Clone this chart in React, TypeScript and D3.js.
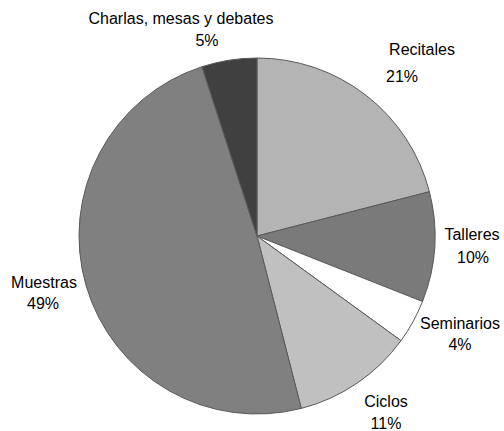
import React, { useEffect, useRef } from 'react';
import * as d3 from 'd3';

const categories = ['Recitales', 'Talleres', 'Seminarios', 'Ciclos', 'Muestras', 'Charlas, mesas y debates'];
const values = [21, 10, 4, 11, 49, 5];
const fills = ['#b4b4b4', '#7a7a7a', '#ffffff', '#c0c0c0', '#808080', '#404040'];
// label anchor points (name baseline, percent baseline)
const labelPos = [
  { x: 422, y: 55, px: 402, py: 82 },
  { x: 472, y: 240, px: 473, py: 263 },
  { x: 460, y: 329, px: 460, py: 350 },
  { x: 386, y: 407, px: 386, py: 429 },
  { x: 44, y: 288, px: 43, py: 309 },
  { x: 181, y: 24, px: 207, py: 46 },
];

const App = () => {
  const ref = useRef(null);

  useEffect(() => {
    if (!ref.current) return;
    const width = 504;
    const height = 431;
    const cx = 257;
    const cy = 236;
    const radius = 178;

    const svg = d3.select(ref.current)
      .attr('width', width)
      .attr('height', height);
    svg.selectAll('*').remove();

    const pie = d3.pie<number>().sort(null).value(d => d);
    const arc = d3.arc<d3.PieArcDatum<number>>().innerRadius(0).outerRadius(radius);

    const g = svg.append('g').attr('transform', `translate(${cx}, ${cy})`);
    g.selectAll('path')
      .data(pie(values))
      .enter()
      .append('path')
        .attr('d', arc)
        .attr('fill', (d, i) => fills[i])
        .attr('stroke', '#5a5a5a')
        .attr('stroke-width', 1);

    const labels = svg.append('g')
      .style('font-family', '"Liberation Sans", Arial, sans-serif')
      .style('font-size', '16px')
      .attr('fill', '#000');

    categories.forEach((c, i) => {
      const p = labelPos[i];
      labels.append('text')
        .attr('x', p.x).attr('y', p.y)
        .attr('text-anchor', 'middle')
        .text(c);
      labels.append('text')
        .attr('x', p.px).attr('y', p.py)
        .attr('text-anchor', 'middle')
        .text(values[i] + '%');
    });
  }, []);

  return (
    <svg ref={ref} style={{ position: 'absolute', left: 0, top: 0 }} />
  );
};

export default App;
